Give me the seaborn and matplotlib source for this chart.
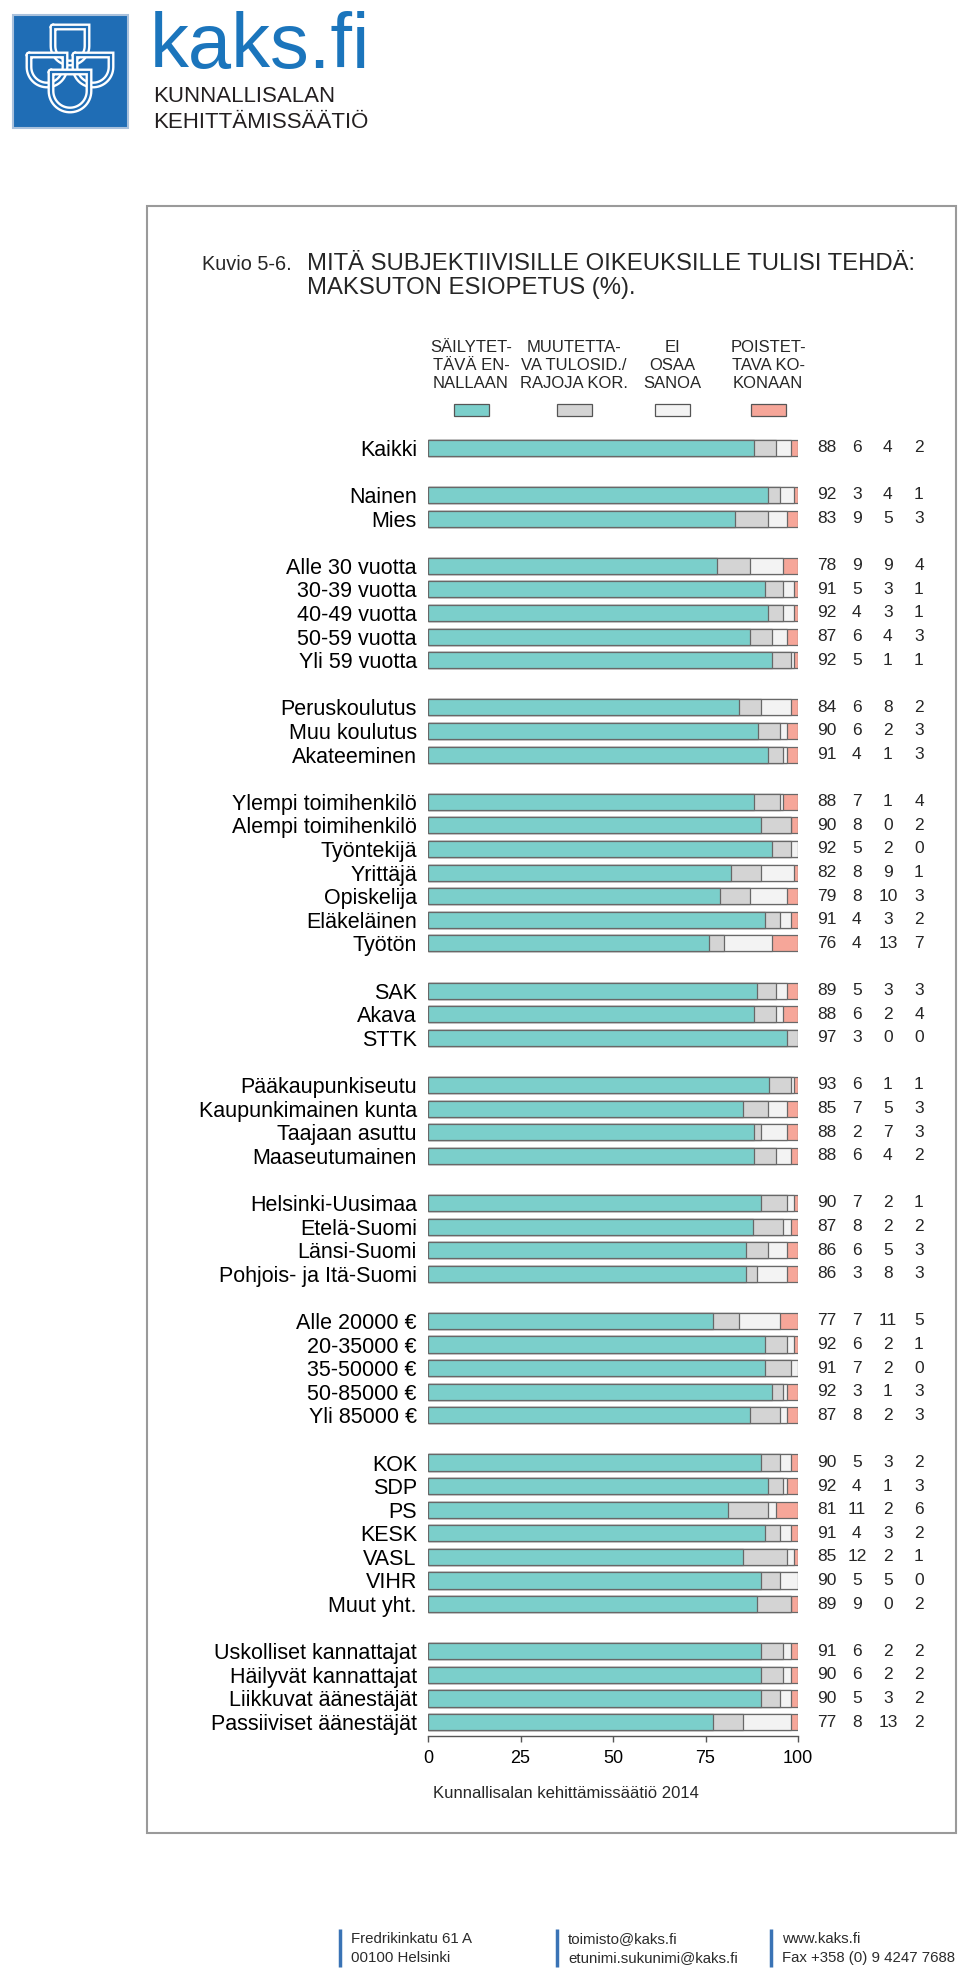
import numpy as np
import pandas as pd
import matplotlib
matplotlib.use("Agg")
from matplotlib import pyplot as plt
from matplotlib.patches import Rectangle
import seaborn as sns

sns.set_theme(style="white")
plt.rcParams["font.family"] = ["Liberation Sans", "DejaVu Sans"]

labels = [
    "Kaikki",
    "Nainen", "Mies",
    "Alle 30 vuotta", "30-39 vuotta", "40-49 vuotta", "50-59 vuotta", "Yli 59 vuotta",
    "Peruskoulutus", "Muu koulutus", "Akateeminen",
    "Ylempi toimihenkilö", "Alempi toimihenkilö", "Työntekijä", "Yrittäjä",
    "Opiskelija", "Eläkeläinen", "Työtön",
    "SAK", "Akava", "STTK",
    "Pääkaupunkiseutu", "Kaupunkimainen kunta", "Taajaan asuttu", "Maaseutumainen",
    "Helsinki-Uusimaa", "Etelä-Suomi", "Länsi-Suomi", "Pohjois- ja Itä-Suomi",
    "Alle 20000 €", "20-35000 €", "35-50000 €", "50-85000 €", "Yli 85000 €",
    "KOK", "SDP", "PS", "KESK", "VASL", "VIHR", "Muut yht.",
    "Uskolliset kannattajat", "Häilyvät kannattajat", "Liikkuvat äänestäjät",
    "Passiiviset äänestäjät",
]
group_sizes = [1, 2, 5, 3, 7, 3, 4, 4, 5, 7, 4]

sailytettava = [88, 92, 83, 78, 91, 92, 87, 92, 84, 90, 91, 88, 90, 92, 82, 79, 91, 76,
                89, 88, 97, 93, 85, 88, 88, 90, 87, 86, 86, 77, 92, 91, 92, 87,
                90, 92, 81, 91, 85, 90, 89, 91, 90, 90, 77]
muutettava = [6, 3, 9, 9, 5, 4, 6, 5, 6, 6, 4, 7, 8, 5, 8, 8, 4, 4,
              5, 6, 3, 6, 7, 2, 6, 7, 8, 6, 3, 7, 6, 7, 3, 8,
              5, 4, 11, 4, 12, 5, 9, 6, 6, 5, 8]
ei_osaa = [4, 4, 5, 9, 3, 3, 4, 1, 8, 2, 1, 1, 0, 2, 9, 10, 3, 13,
           3, 2, 0, 1, 5, 7, 4, 2, 2, 5, 8, 11, 2, 2, 1, 2,
           3, 1, 2, 3, 2, 5, 0, 2, 2, 3, 13]
poistettava = [2, 1, 3, 4, 1, 1, 3, 1, 2, 3, 3, 4, 2, 0, 1, 3, 2, 7,
               3, 4, 0, 1, 3, 3, 2, 1, 2, 3, 3, 5, 1, 0, 3, 3,
               2, 3, 6, 2, 1, 0, 2, 2, 2, 2, 2]

legend_titles = ["SÄILYTET-\nTÄVÄ EN-\nNALLAAN", "MUUTETTA-\nVA TULOSID./\nRAJOJA KOR.",
                 "EI\nOSAA\nSANOA", "POISTET-\nTAVA KO-\nKONAAN"]
colors = ["#7bcfcb", "#d4d4d4", "#f3f3f3", "#f6a699"]
ticks = [0, 25, 50, 75, 100]

# one empty row between groups
pos = []
row = 0
for n in group_sizes:
    pos.extend(range(row, row + n))
    row += n + 1

cols = ["sailytettava", "muutettava", "ei_osaa", "poistettava"]
df = pd.DataFrame({"label": labels, "pos": pos, "sailytettava": sailytettava,
                   "muutettava": muutettava, "ei_osaa": ei_osaa, "poistettava": poistettava})
cum = df[cols].cumsum(axis=1).div(df[cols].sum(axis=1), axis=0) * 100
cum["pos"] = df["pos"]

W, H = 960, 1977
fig = plt.figure(figsize=(W / 100, H / 100), dpi=100)
deco = fig.add_axes([0, 0, 1, 1])
deco.set_xlim(0, W)
deco.set_ylim(H, 0)
deco.axis("off")

ax = fig.add_axes([428 / W, 1 - 1736 / H, 370 / W, 1300 / H])
ax.patch.set_alpha(0)
for k in reversed(range(4)):
    sns.barplot(data=cum, x=cols[k], y="pos", orient="h", native_scale=True,
                color=colors[k], saturation=1, edgecolor="#686868", linewidth=0.9,
                width=0.68, errorbar=None, ax=ax)
ax.set_xlim(0, 100)
ax.set_ylim(54.59, -0.5)
ax.set_xlabel("")
ax.set_ylabel("")
ax.set_yticks(pos, labels)
ax.set_xticks(ticks, [str(t) for t in ticks])
ax.tick_params(axis="y", length=0, pad=8, labelsize=15.5, colors="black")
ax.tick_params(axis="x", length=4, width=1, color="#555555", pad=6, labelsize=13,
               labelcolor="black", bottom=True, direction="out")
sns.despine(ax=ax, left=True)
ax.spines["bottom"].set_color("#555555")
ax.spines["bottom"].set_linewidth(1)

# values on the right
num_x = [107.8, 115.9, 124.3, 132.7]
for i, p in enumerate(pos):
    for k, c in enumerate(cols):
        ax.text(num_x[k], p, str(df[c].iloc[i]), ha="center", va="center",
                fontsize=12.5, clip_on=False)

# frame round the chart
deco.add_patch(Rectangle((147, 206), 809, 1627, fill=False, ec="#9a9a9a", lw=1.5))

deco.text(202, 265, "Kuvio 5-6.", fontsize=14.3, va="center")
deco.text(307, 264, "MITÄ SUBJEKTIIVISILLE OIKEUKSILLE TULISI TEHDÄ:", fontsize=17.2, va="center")
deco.text(307, 288, "MAKSUTON ESIOPETUS (%).", fontsize=17.2, va="center")

leg_x = [471, 574, 672, 768]
for i in range(4):
    deco.text(leg_x[i], 365, legend_titles[i], ha="center", va="center", ma="center",
              fontsize=12, linespacing=1.25)
    deco.add_patch(Rectangle((leg_x[i] - 17.5, 404), 35, 12, fc=colors[i], ec="#555555", lw=0.9))

deco.text(433, 1793, "Kunnallisalan kehittämissäätiö 2014", fontsize=12, va="center")

# logo
blue = "#1f6db5"
deco.add_patch(Rectangle((13, 15), 115, 113, fc=blue, ec="#a9c1dc", lw=1.5))


def shield(cx, top, w, h):
    t = np.linspace(np.pi, 0, 30)
    r = w / 2
    xs = np.r_[cx - r, cx - r, cx + r * np.cos(t), cx + r, cx - r]
    ys = np.r_[top, top + h - r, top + h - r + r * np.sin(t), top, top]
    return xs, ys


for cx, top, w, h in [(70, 27, 34, 36), (47, 55, 36, 30), (93, 55, 36, 30), (70, 72, 38, 38)]:
    xs, ys = shield(cx, top, w, h)
    deco.plot(xs, ys, color="white", lw=5, solid_joinstyle="miter")
    deco.plot(xs, ys, color=blue, lw=1.6, solid_joinstyle="miter")

deco.text(150, 68, "kaks.fi", fontsize=56, color="#1b75bc", va="baseline")
deco.text(153, 96, "KUNNALLISALAN", fontsize=16, color="#231f20", va="center")
deco.text(153, 122, "KEHITTÄMISSÄÄTIÖ", fontsize=16, color="#231f20", va="center")

# footer
footer = [("Fredrikinkatu 61 A", "00100 Helsinki", 340),
          ("toimisto@kaks.fi", "etunimi.sukunimi@kaks.fi", 557),
          ("www.kaks.fi", "Fax +358 (0) 9 4247 7688", 771)]
for line1, line2, fx in footer:
    deco.plot([fx, fx], [1929, 1967], color="#3a73b5", lw=2.5, solid_capstyle="butt")
    deco.text(fx + 11, 1939, line1, fontsize=10.8, va="center", color="#2b2b2b")
    deco.text(fx + 11, 1958, line2, fontsize=10.8, va="center", color="#2b2b2b")

fig.savefig("out.png", dpi=100)
